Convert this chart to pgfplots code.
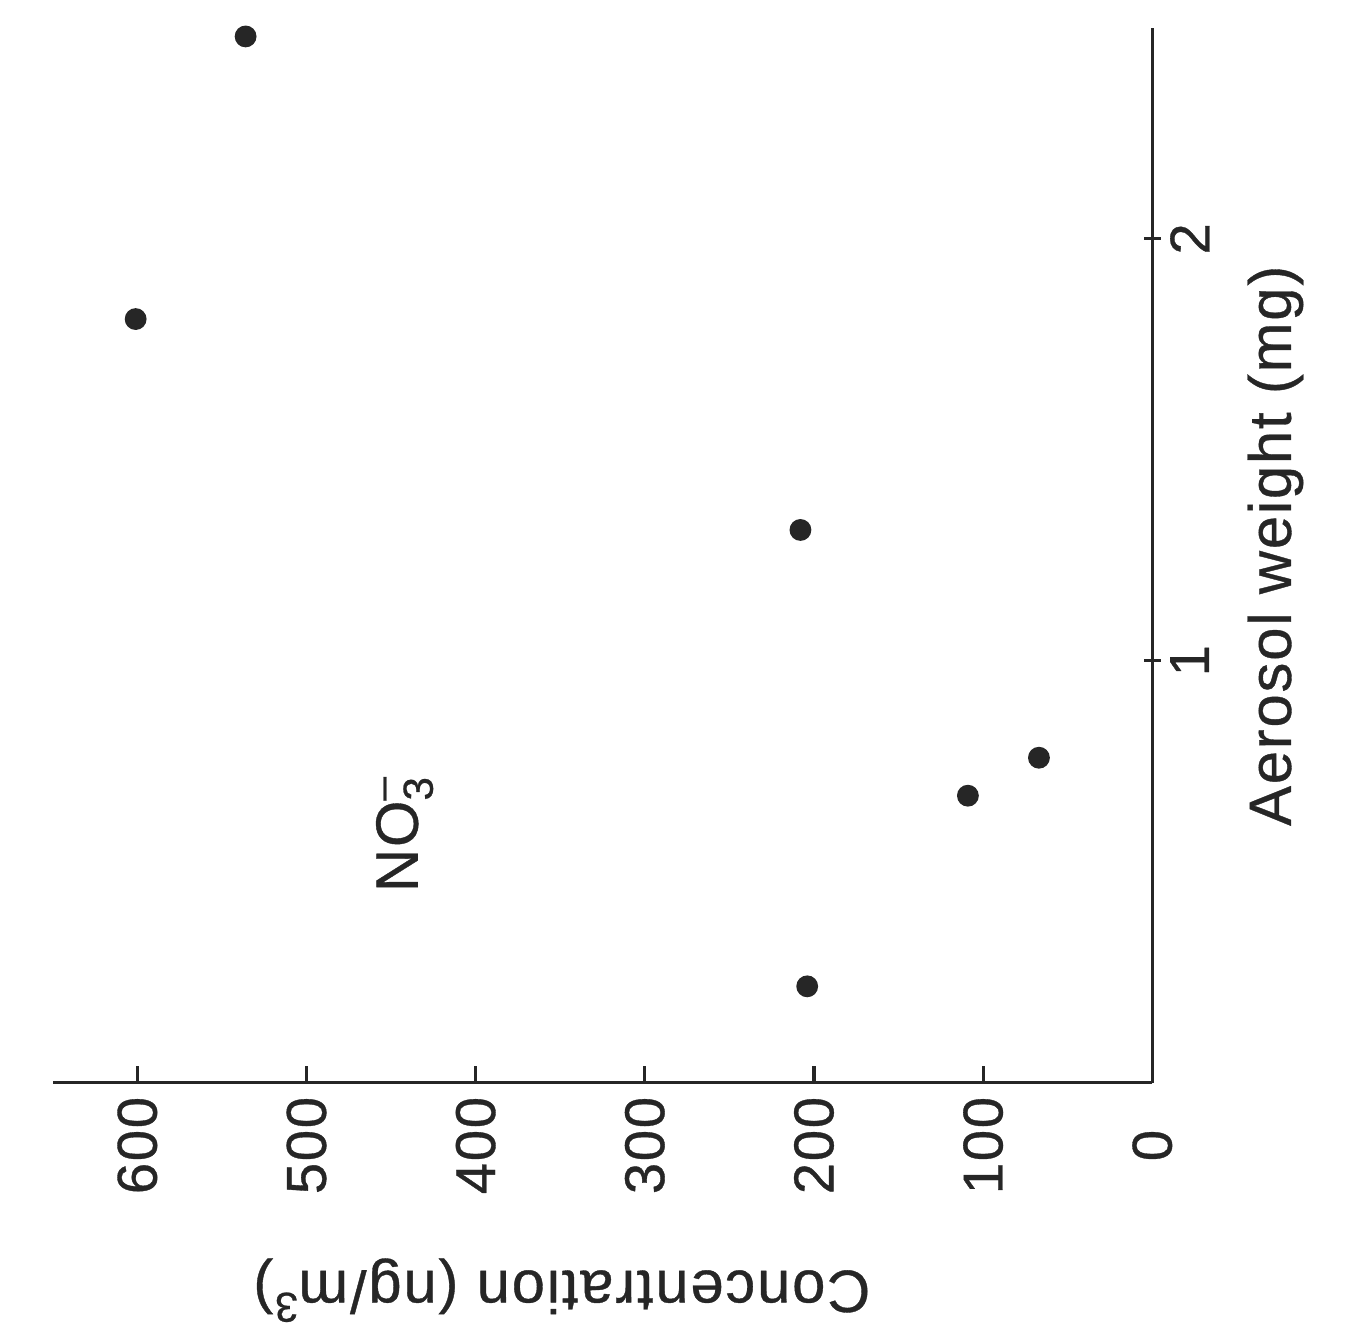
\documentclass[border=0pt]{standalone}
\usepackage{pgfplots}
\pgfplotsset{compat=1.18}
\usepackage{fontspec}
\setmainfont{Liberation Sans}[LetterSpace=3,FakeBold=0.6]
\begin{document}
\begin{tikzpicture}[rotate=90,transform shape]
\begin{axis}[
  scale only axis,
  width=10.54cm, height=10.99cm,
  xmin=0, xmax=2.5, ymin=0, ymax=650,
  axis lines=left,
  axis line style={-, line width=0.9pt, black!85},
  every tick/.style={line width=0.9pt, black!85},
  xtick={1,2}, ytick={0,100,200,300,400,500,600},
  xtick align=center, ytick align=inside,
  major tick length=0.17cm,
  /pgf/number format/assume math mode=true,
  tick label style={font=\fontsize{16}{19}\selectfont, text=black!85},
  xticklabel style={yshift=0.03cm},
  yticklabel style={anchor=center, xshift=-0.63cm},
  label style={font=\fontsize{17}{20}\selectfont, text=black!85},
  xlabel={Aerosol weight (mg)},
  ylabel={Concentration (ng/m\textsuperscript{3})},
  xlabel style={at={(axis description cs:0.509,-0.112)}, anchor=center},
  ylabel style={at={(axis description cs:-0.197,0.537)}, anchor=center},
  clip=false,
]
\addplot[only marks, mark=*, mark size=2.9pt, black!85] coordinates {
  (0.228,204) (0.68,109) (0.77,67) (1.31,208) (1.81,601) (2.48,536)
};
\node[font=\fontsize{17}{20}\selectfont, text=black!85] at (axis cs:0.59,442)
  {NO$_{\mbox{\fontsize{12}{12}\selectfont 3}}^{\mbox{\fontsize{12}{12}\selectfont --}}$};
\path (rel axis cs:-0.244,-0.178) rectangle (rel axis cs:1.0266,1.048);
\end{axis}
\end{tikzpicture}
\end{document}
